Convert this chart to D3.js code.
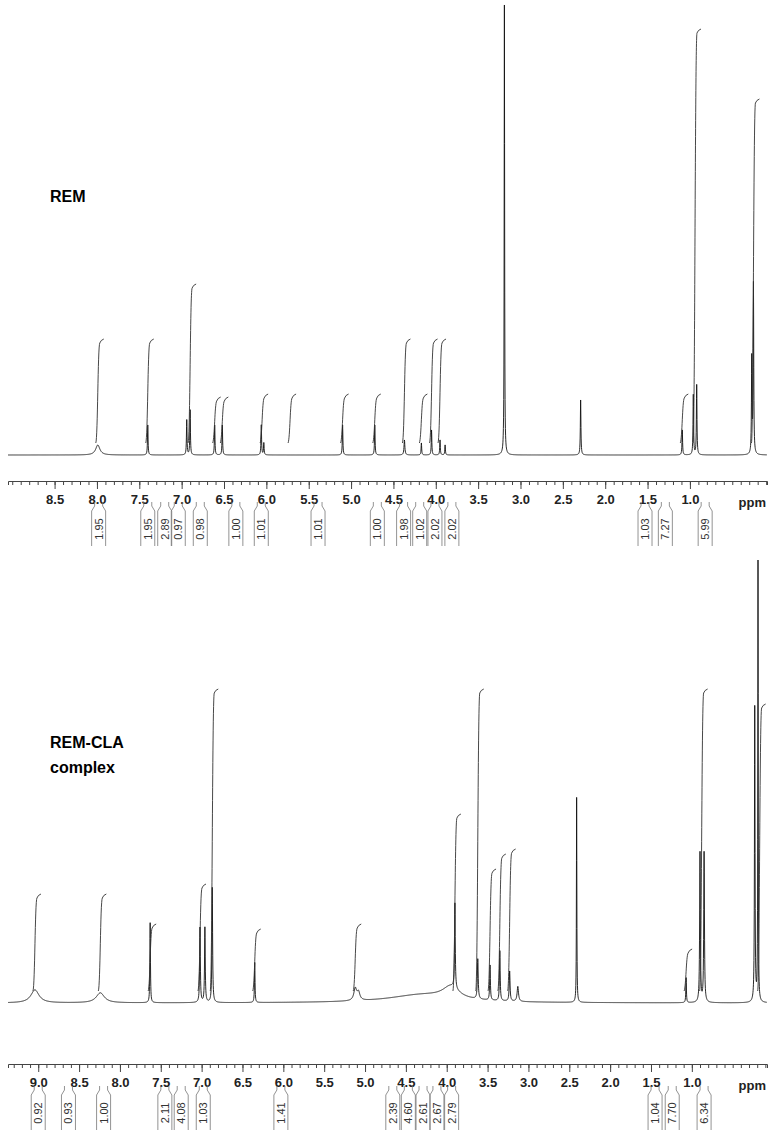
<!DOCTYPE html>
<html><head><meta charset="utf-8">
<script src="https://cdn.jsdelivr.net/npm/d3@7"></script>
<style>body{margin:0;background:#fff}svg{display:block}</style>
</head><body><svg id="nmr" width="777" height="1130"></svg>
<script>
// REM spectrum: peak ppm, height (px above baseline), width (ppm)
var remPpm   = [7.99, 7.40, 6.94, 6.90, 6.61, 6.52, 6.06, 6.03, 5.10, 4.72, 4.37, 4.17, 4.05, 3.95, 3.89, 3.19, 2.29, 1.09, 0.96, 0.92, 0.27, 0.25];
var remH     = [10, 30, 35, 45, 30, 30, 30, 12, 30, 30, 15, 12, 25, 15, 10, 450, 55, 25, 60, 70, 95, 170];
var remW     = [0.03, 0.004, 0.004, 0.004, 0.004, 0.004, 0.004, 0.004, 0.004, 0.004, 0.006, 0.004, 0.004, 0.004, 0.004, 0.003, 0.004, 0.004, 0.004, 0.004, 0.004, 0.004];
// integral curves: ppm and top y
var remIntPpm = [7.99, 7.40, 6.90, 6.61, 6.52, 6.05, 5.72, 5.10, 4.72, 4.37, 4.17, 4.05, 3.95, 1.09, 0.94, 0.25];
var remIntTop = [340, 340, 285, 398, 398, 395, 395, 395, 395, 340, 395, 340, 340, 395, 30, 100];
var remLabPpm = [7.98, 7.40, 7.20, 7.04, 6.78, 6.36, 6.06, 5.39, 4.69, 4.38, 4.19, 4.01, 3.81, 1.53, 1.29, 0.82];
var remLabels = ["1.95", "1.95", "2.89", "0.97", "0.98", "1.00", "1.01", "1.01", "1.00", "1.98", "1.02", "2.02", "2.02", "1.03", "7.27", "5.99"];
var remTicks  = [8.5, 8.0, 7.5, 7.0, 6.5, 6.0, 5.5, 5.0, 4.5, 4.0, 3.5, 3.0, 2.5, 2.0, 1.5, 1.0];

// REM-CLA complex
var cplxPpm = [9.04, 8.24, 7.63, 7.02, 6.96, 6.87, 6.35, 5.12, 5.08, 4.3, 3.95, 3.90, 3.62, 3.47, 3.35, 3.23, 3.13, 2.41, 1.07, 0.90, 0.85, 0.23, 0.19];
var cplxH   = [13, 10, 80, 75, 75, 115, 40, 12, 8, 8, 12, 85, 40, 35, 50, 30, 15, 205, 25, 150, 150, 295, 443];
var cplxW   = [0.06, 0.06, 0.004, 0.005, 0.005, 0.005, 0.004, 0.02, 0.02, 0.5, 0.12, 0.005, 0.006, 0.005, 0.005, 0.006, 0.01, 0.003, 0.004, 0.005, 0.005, 0.004, 0.003];
var cplxIntPpm = [9.04, 8.24, 7.63, 7.02, 6.87, 6.35, 5.12, 3.90, 3.62, 3.47, 3.35, 3.23, 1.07, 0.88, 0.17];
var cplxIntTop = [895, 895, 925, 885, 690, 930, 925, 815, 690, 870, 855, 850, 950, 690, 705];
var cplxLabPpm = [9.0, 8.63, 8.20, 7.45, 7.25, 6.98, 6.03, 4.66, 4.47, 4.29, 4.12, 3.94, 1.45, 1.24, 0.85];
var cplxLabels = ["0.92", "0.93", "1.00", "2.11", "4.08", "1.03", "1.41", "2.39", "4.60", "2.61", "2.67", "2.79", "1.04", "7.70", "6.34"];
var cplxTicks  = [9.0, 8.5, 8.0, 7.5, 7.0, 6.5, 6.0, 5.5, 5.0, 4.5, 4.0, 3.5, 3.0, 2.5, 2.0, 1.5, 1.0];

var svg = d3.select("#nmr");

function panel(opt) {
  var x = d3.scaleLinear().domain(opt.domain).range([8, 767]);
  var y = d3.scaleLinear().domain([0, 1]).range([opt.base, opt.base - 1]);
  var g = svg.append("g");

  // spectrum line from lorentzians
  var pts = d3.range(opt.domain[0], opt.domain[1], -0.002);
  opt.ppm.forEach(function(p) { pts.push(p); });
  pts.sort(function(a, b) { return b - a; });
  var spec = pts.map(function(p) {
    var s = 0;
    for (var i = 0; i < opt.ppm.length; i++) {
      var d = (p - opt.ppm[i]) / opt.w[i];
      s += opt.h[i] / (1 + d * d);
    }
    return [p, Math.min(s, opt.base - opt.clip)];
  });
  g.append("path")
    .attr("d", d3.line().x(function(d) { return x(d[0]); }).y(function(d) { return y(d[1]); })(spec))
    .attr("fill", "none").attr("stroke", "#111").attr("stroke-width", 0.9);

  // integral curves
  opt.intPpm.forEach(function(p, i) {
    var xi = x(p), y0 = opt.base - 12, y1 = opt.intTop[i];
    g.append("path")
      .attr("d", "M" + (xi - 2) + "," + y0 + " C" + (xi) + "," + (y0 - 5) + " " + (xi) + "," + (y1 + 6) + " " + (xi + 2) + "," + (y1 + 3) +
        " Q" + (xi + 3) + "," + y1 + " " + (xi + 6) + "," + (y1 - 1))
      .attr("fill", "none").attr("stroke", "#333").attr("stroke-width", 0.9);
  });

  // axis: minor ticks every 0.1, labelled ticks every 0.5
  var ax = d3.axisBottom(x)
    .tickValues(d3.range(Math.floor(opt.domain[0] * 10) / 10, opt.domain[1], -0.1))
    .tickSize(4).tickFormat("");
  g.append("g").attr("transform", "translate(0," + opt.axisY + ")").call(ax)
    .call(function(s) { s.select(".domain").attr("stroke", "#444"); s.selectAll("line").attr("stroke", "#444"); });
  var axM = d3.axisBottom(x).tickValues(opt.ticks).tickSize(8).tickFormat(d3.format(".1f"));
  g.append("g").attr("transform", "translate(0," + opt.axisY + ")").call(axM)
    .call(function(s) {
      s.select(".domain").remove();
      s.selectAll("line").attr("stroke", "#444");
      s.selectAll("text").attr("dy", "0.9em").attr("font-family", "Liberation Sans, Arial, sans-serif")
        .attr("font-size", 13).attr("font-weight", "bold").attr("fill", "#222");
    });
  g.append("text").attr("x", 766).attr("y", opt.axisY + 26).attr("text-anchor", "end")
    .attr("font-family", "Liberation Sans, Arial, sans-serif").attr("font-size", 13).attr("font-weight", "bold")
    .attr("fill", "#222").text("ppm");

  // integral labels
  opt.labPpm.forEach(function(p, i) {
    var xl = x(p), t = opt.labY, b = opt.labY + 44;
    g.append("path")
      .attr("d", "M" + (xl - 4) + "," + t + " L" + (xl - 4) + "," + (t + 4) + " L" + (xl - 7) + "," + (t + 9) + " L" + (xl - 7) + "," + b +
        " M" + (xl + 4) + "," + t + " L" + (xl + 4) + "," + (t + 4) + " L" + (xl + 7) + "," + (t + 9) + " L" + (xl + 7) + "," + b)
      .attr("fill", "none").attr("stroke", "#777").attr("stroke-width", 0.8);
    g.append("text").attr("transform", "translate(" + (xl + 4) + "," + (t + 27) + ") rotate(-90)")
      .attr("text-anchor", "middle").attr("font-family", "Liberation Sans, Arial, sans-serif")
      .attr("font-size", 11).attr("fill", "#333").text(opt.labels[i]);
  });

  opt.title.forEach(function(s, i) {
    svg.append("text").attr("x", 50).attr("y", opt.titleY + i * 25)
      .attr("font-family", "Liberation Sans, Arial, sans-serif").attr("font-size", 16).attr("font-weight", "bold")
      .text(s);
  });
}

panel({domain: [9.05, 0.09], base: 455, clip: 3, ppm: remPpm, h: remH, w: remW,
  intPpm: remIntPpm, intTop: remIntTop, labPpm: remLabPpm, labels: remLabels, ticks: remTicks,
  axisY: 481, labY: 502, title: ["REM"], titleY: 202});
panel({domain: [9.37, 0.08], base: 1003, clip: 560, ppm: cplxPpm, h: cplxH, w: cplxW,
  intPpm: cplxIntPpm, intTop: cplxIntTop, labPpm: cplxLabPpm, labels: cplxLabels, ticks: cplxTicks,
  axisY: 1064, labY: 1086, title: ["REM-CLA", "complex"], titleY: 748});
</script></body></html>
